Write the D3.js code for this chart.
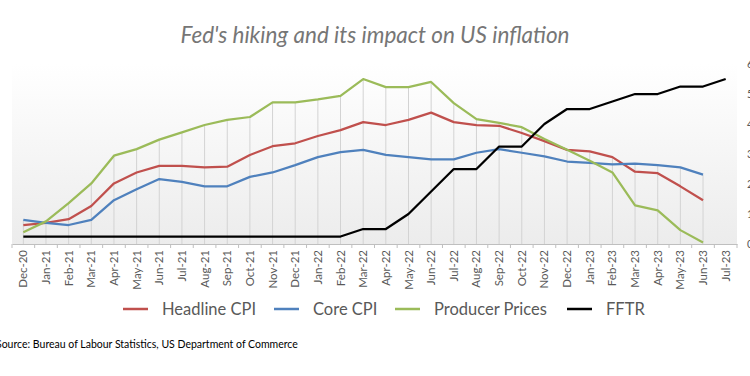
<!DOCTYPE html>
<html>
<head>
<meta charset="utf-8">
<script src="https://cdn.jsdelivr.net/npm/d3@7"></script>
<style>
  html, body { margin: 0; padding: 0; background: #ffffff; }
  svg { display: block; }
</style>
</head>
<body>
<svg id="chart" width="750" height="376"></svg>
<script>
// ---------- data ----------
const months = ["Dec-20","Jan-21","Feb-21","Mar-21","Apr-21","May-21","Jun-21","Jul-21","Aug-21","Sep-21",
  "Oct-21","Nov-21","Dec-21","Jan-22","Feb-22","Mar-22","Apr-22","May-22","Jun-22","Jul-22",
  "Aug-22","Sep-22","Oct-22","Nov-22","Dec-22","Jan-23","Feb-23","Mar-23","Apr-23","May-23","Jun-23","Jul-23"];

const headlineCPI = [1.3,1.45,1.7,2.6,4.15,4.9,5.35,5.35,5.25,5.3,6.1,6.7,6.9,7.4,7.8,8.35,8.15,8.5,9.0,8.35,
  8.15,8.1,7.6,7.05,6.45,6.35,5.95,4.95,4.85,3.95,3.0,null];
const coreCPI = [1.65,1.45,1.3,1.65,3.0,3.75,4.45,4.25,3.95,3.95,4.6,4.9,5.4,5.95,6.3,6.45,6.1,5.95,5.8,5.8,
  6.25,6.5,6.25,6.0,5.65,5.55,5.45,5.5,5.4,5.25,4.75,null];
const producerPrices = [0.8,1.55,2.8,4.15,6.05,6.5,7.15,7.65,8.15,8.5,8.7,9.7,9.7,9.9,10.15,11.3,10.75,10.75,11.1,9.65,
  8.55,8.3,8.0,7.2,6.45,5.7,4.9,2.65,2.3,0.95,0.1,null];
const fftr = [0.25,0.25,0.25,0.25,0.25,0.25,0.25,0.25,0.25,0.25,0.25,0.25,0.25,0.25,0.25,0.5,0.5,1.0,1.75,2.5,
  2.5,3.25,3.25,4.0,4.5,4.5,4.75,5.0,5.0,5.25,5.25,5.5];

const rightTicks = [0,1,2,3,4,5,6];
const leftDomain = [0, 12.33];
const rightDomain = [0, 6];

const seriesNames = ["Headline CPI","Core CPI","Producer Prices","FFTR"];
const seriesColors = ["#C0504D","#4F81BD","#9BBB59","#000000"];

const title = "Fed's hiking and its impact on US inflation";
const source = "Source: Bureau of Labour Statistics, US Department of Commerce";

// ---------- layout ----------
const svg = d3.select("#chart");
const plot = { left: 12, right: 737, top: 64, bottom: 244 };
const FONT = "Lato, 'Open Sans', sans-serif";

const x = d3.scaleBand().domain(months).range([plot.left, plot.right]).padding(0);
const cx = d => x(d) + x.bandwidth() / 2;
const yL = d3.scaleLinear().domain(leftDomain).range([plot.bottom, plot.top]);
const yR = d3.scaleLinear().domain(rightDomain).range([plot.bottom, plot.top]);

// background gradient
const defs = svg.append("defs");
const grad = defs.append("linearGradient").attr("id", "bg").attr("x1", 0).attr("y1", 0).attr("x2", 0).attr("y2", 1);
grad.append("stop").attr("offset", "0%").attr("stop-color", "#ffffff");
grad.append("stop").attr("offset", "100%").attr("stop-color", "#ececec");
svg.append("rect")
  .attr("x", plot.left).attr("y", plot.top)
  .attr("width", plot.right - plot.left).attr("height", plot.bottom - plot.top)
  .attr("fill", "url(#bg)");

// drop lines (from highest inflation series down to axis)
const dropData = months.map((m, i) => {
  const vals = [headlineCPI[i], coreCPI[i], producerPrices[i]].filter(v => v != null);
  return vals.length ? { m, v: d3.max(vals) } : null;
}).filter(d => d);
svg.append("g").selectAll("line").data(dropData).join("line")
  .attr("x1", d => cx(d.m)).attr("x2", d => cx(d.m))
  .attr("y1", d => yL(d.v)).attr("y2", plot.bottom)
  .attr("stroke", "#d3d3d3").attr("stroke-width", 1);

// x axis
const xAxis = svg.append("g").attr("transform", `translate(0,${plot.bottom})`)
  .call(d3.axisBottom(x).tickSize(0).tickPadding(0));
xAxis.select(".domain").attr("stroke", "#bfbfbf").attr("stroke-width", 1);
xAxis.selectAll("text")
  .attr("transform", "rotate(-90)")
  .attr("x", -6).attr("y", 0).attr("dy", "0.35em")
  .style("text-anchor", "end")
  .attr("fill", "#595959")
  .style("font-family", FONT).style("font-size", "11.5px");
// boundary ticks
const bounds = months.map(m => x(m)).concat([plot.right]);
svg.append("g").selectAll("line").data(bounds).join("line")
  .attr("x1", d => d).attr("x2", d => d)
  .attr("y1", plot.bottom).attr("y2", plot.bottom + 4)
  .attr("stroke", "#bfbfbf").attr("stroke-width", 1);

// right axis (cut off at the picture's edge, as in the original)
const rAxis = svg.append("g").attr("transform", `translate(740,0)`)
  .call(d3.axisRight(yR).tickValues(rightTicks).tickSize(0).tickPadding(7).tickFormat(d3.format("d")));
rAxis.select(".domain").remove();
rAxis.selectAll("text").attr("fill", "#595959").style("font-family", FONT).style("font-size", "11px");

// lines
const lineL = d3.line().defined(d => d.v != null).x(d => cx(d.m)).y(d => yL(d.v));
const lineR = d3.line().defined(d => d.v != null).x(d => cx(d.m)).y(d => yR(d.v));
const toPts = arr => months.map((m, i) => ({ m, v: arr[i] }));

[[headlineCPI, 0], [coreCPI, 1], [producerPrices, 2]].forEach(([arr, k]) => {
  svg.append("path").datum(toPts(arr))
    .attr("d", lineL).attr("fill", "none")
    .attr("stroke", seriesColors[k]).attr("stroke-width", 2.25)
    .attr("stroke-linejoin", "round");
});
svg.append("path").datum(toPts(fftr))
  .attr("d", lineR).attr("fill", "none")
  .attr("stroke", seriesColors[3]).attr("stroke-width", 2.25)
  .attr("stroke-linejoin", "round");

// title
svg.append("text").attr("x", 375).attr("y", 43)
  .attr("text-anchor", "middle")
  .style("font-family", FONT).style("font-style", "italic").style("font-size", "22.5px")
  .attr("fill", "#767676").text(title);

// legend
const legendX = [123, 274, 395, 567];
const legendY = 309;
const lg = svg.append("g").selectAll("g").data(seriesNames).join("g")
  .attr("transform", (d, i) => `translate(${legendX[i]},${legendY})`);
lg.append("line").attr("x1", 0).attr("x2", 25).attr("y1", 0).attr("y2", 0)
  .attr("stroke", (d, i) => seriesColors[i]).attr("stroke-width", 2.5);
lg.append("text").attr("x", 39).attr("y", 0).attr("dy", "0.35em")
  .style("font-family", FONT).style("font-size", "16.5px")
  .attr("fill", "#595959").text(d => d);

// source
svg.append("text").attr("x", -4).attr("y", 348)
  .style("font-family", FONT).style("font-size", "10.5px")
  .attr("fill", "#000000").text(source);
</script>
</body>
</html>
